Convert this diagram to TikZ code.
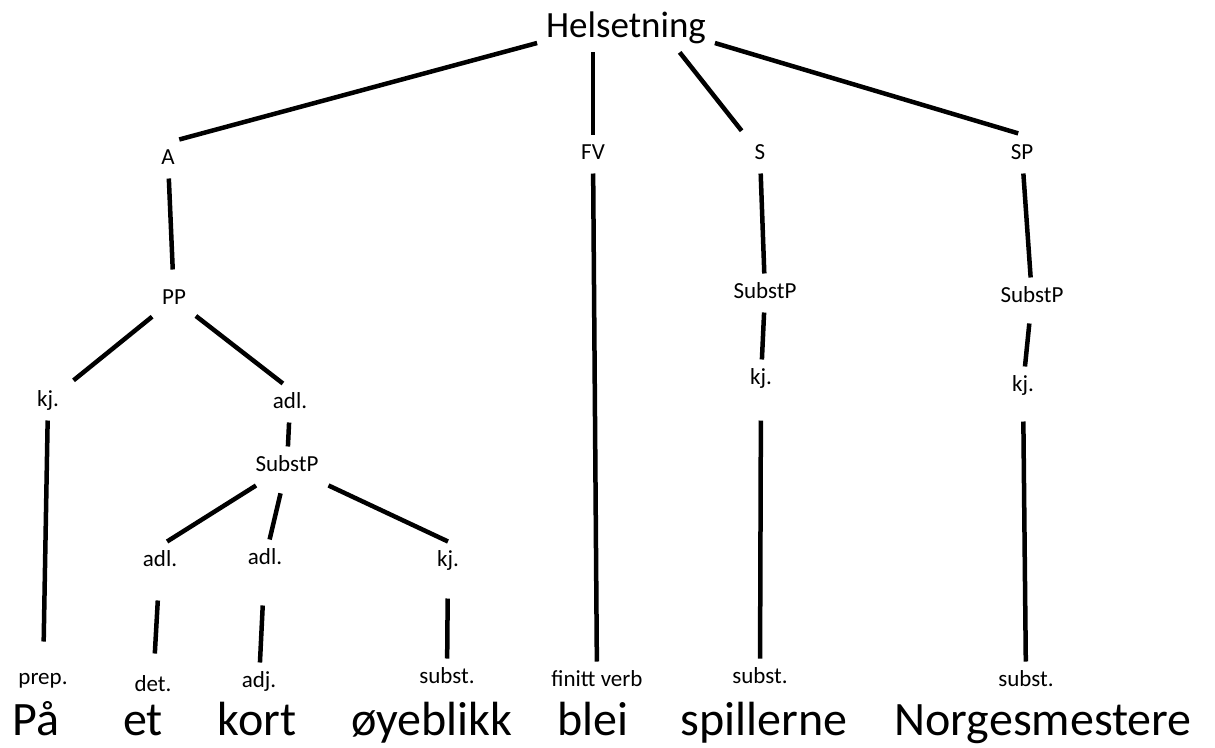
\documentclass[tikz,border=0pt]{standalone}
\usepackage{fontspec}
\setmainfont{Carlito}
\begin{document}
\begin{tikzpicture}[
        x=1pt, y=-1pt,
        kat/.style={font=\fontsize{23}{23}\selectfont, text height=15pt, text depth=4pt, inner sep=2pt, outer sep=8pt},
        ord/.style={font=\fontsize{48}{48}\selectfont, anchor=base, inner sep=0pt},
        gren/.style={line width=4.5pt}
    ]
        \fill[white] (0,0) rectangle (1215,747);
        \useasboundingbox (0,0) rectangle (1215,747);

        % Toppnode og ledd
        \node [font=\fontsize{37}{37}\selectfont, anchor=base, inner sep=3pt, outer sep=6pt] (H) at (626,37) {Helsetning};
        \node [kat] (A) at (168,159) {A};
        \node [kat] (FV) at (593,154) {FV};
        \node [kat] (S) at (760,154) {S};
        \node [kat] (SP) at (1022,154) {SP};

        % Greina under A
        \node [kat] (PP) at (174,299) {PP};
        \node [kat] (kj1) at (48,401) {kj.};
        \node [kat] (adl0) at (290,403) {adl.};
        \node [kat] (SubstP1) at (287,466) {SubstP};
        \node [kat] (adl1) at (160,561) {adl.};
        \node [kat] (adl2) at (265,559) {adl.};
        \node [kat] (kj2) at (448,561) {kj.};

        % Greinene under S og SP
        \node [kat] (SubstP2) at (765,293) {SubstP};
        \node [kat] (kj3) at (761,379) {kj.};
        \node [kat] (SubstP3) at (1032,297) {SubstP};
        \node [kat] (kj4) at (1023,386) {kj.};

        % Ordklasser
        \node [kat] (prep) at (43,679) {prep.};
        \node [kat] (det) at (153,686) {det.};
        \node [kat] (adj) at (259,682) {adj.};
        \node [kat] (subst1) at (447,678) {subst.};
        \node [kat] (fverb) at (597,681) {finitt verb};
        \node [kat] (subst2) at (760,678) {subst.};
        \node [kat] (subst3) at (1026,681) {subst.};

        % Setninga
        \node [ord] (w1) at (36,735) {På};
        \node [ord] (w2) at (143,735) {et};
        \node [ord] (w3) at (257,735) {kort};
        \node [ord] (w4) at (432,735) {øyeblikk};
        \node [ord] (w5) at (593,735) {blei};
        \node [ord] (w6) at (764,735) {spillerne};
        \node [ord] (w7) at (1043,735) {Norgesmestere};

        % Linjer
        \draw[gren] (H.190) -- (A.60);
        \draw[gren] (FV |- H.south) -- (FV);
        \draw[gren, shorten >=5pt] (H.-25) -- (S);
        \draw[gren, shorten >=4pt] (H.-10) -- (SP.north);
        \draw[gren, shorten >=10pt] (A) -- (PP);
        \draw[gren, shorten >=6pt] (PP) -- (kj1);
        \draw[gren] (PP) -- (adl0.110);
        \draw[gren, shorten >=18pt] (kj1) -- (prep);
        \draw[gren] (adl0) -- (SubstP1);
        \draw[gren] (SubstP1) -- (adl1.70);
        \draw[gren, shorten <=8pt] (SubstP1) -- (adl2);
        \draw[gren] (SubstP1) -- (kj2.north);
        \draw[gren, shorten <=20pt, shorten >=13pt] (adl1) -- (det);
        \draw[gren, shorten <=27pt] (adl2) -- (adj);
        \draw[gren, shorten <=18pt] (kj2) -- (subst1);
        \draw[gren] (FV) -- (fverb);
        \draw[gren] (S) -- (SubstP2);
        \draw[gren] (SubstP2) -- (kj3);
        \draw[gren, shorten <=22pt] (kj3) -- (subst2);
        \draw[gren] (SP) -- (SubstP3);
        \draw[gren, shorten <=7pt] (SubstP3) -- (kj4);
        \draw[gren, shorten <=16pt] (kj4) -- (subst3);
    \end{tikzpicture}
\end{document}
